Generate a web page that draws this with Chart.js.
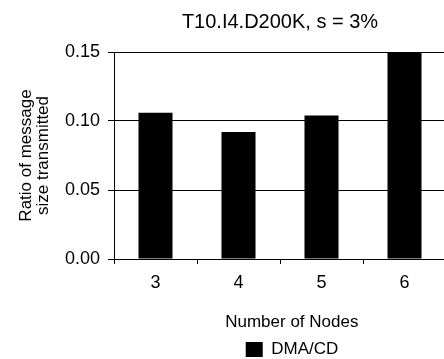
<!DOCTYPE html>
<html>
<head>
<meta charset="utf-8">
<script src="https://cdn.jsdelivr.net/npm/chart.js@4/dist/chart.umd.min.js"></script>
<style>
  html, body { margin: 0; padding: 0; background: #fff; overflow: hidden; }
  #wrap { width: 584px; height: 359px; }
</style>
</head>
<body>
<div id="wrap"><canvas id="myChart" width="584" height="359"></canvas></div>
<script>
// data
const nodeLabels = ['3', '4', '5', '6'];
const dmaValues = [0.106, 0.092, 0.104, 0.150];
const yTicks = [0, 0.05, 0.10, 0.15];

const fontFamily = '"Liberation Sans", Arial, Helvetica, sans-serif';
Chart.defaults.font.family = fontFamily;
Chart.defaults.color = '#000';

const config = {
  type: 'bar',
  data: {
    labels: nodeLabels,
    datasets: [{
      label: 'DMA/CD',
      data: dmaValues,
      backgroundColor: '#000',
      borderWidth: 0,
      categoryPercentage: 1,
      barPercentage: 0.41
    }]
  },
  options: {
    responsive: false,
    devicePixelRatio: 1,
    animation: false,
    layout: { padding: { left: 0, right: 0, top: 0, bottom: -9 } },
    scales: {
      x: {
        offset: true,
        grid: {
          offset: true,
          drawOnChartArea: false,
          drawTicks: true,
          tickLength: 5,
          color: '#000'
        },
        border: { color: '#000', width: 1 },
        ticks: { font: { size: 18 }, padding: 8, color: '#000' },
        title: {
          display: true,
          // leading spaces nudge the centred title a little to the right, as in the picture
          text: '     Number of Nodes',
          font: { size: 17 },
          padding: { top: 0, bottom: 8 },
          color: '#000'
        },
        afterFit: (scale) => { scale.height = 82; }
      },
      y: {
        min: 0,
        max: 0.15,
        afterBuildTicks: (scale) => { scale.ticks = yTicks.map(v => ({ value: v })); },
        grid: {
          color: '#000',
          lineWidth: 1,
          drawTicks: true,
          tickLength: 6
        },
        border: { color: '#000', width: 1 },
        ticks: {
          font: { size: 18 },
          padding: 8,
          color: '#000',
          callback: (value) => value.toFixed(2)
        },
        title: {
          display: true,
          text: ['Ratio of message', 'size transmitted'],
          font: { size: 17, lineHeight: 1.05 },
          padding: { top: 17, bottom: 0 },
          color: '#000'
        },
        afterFit: (scale) => { scale.width = 114; }
      },
      // empty axis on the right, only to hold the plot edge off the window
      yRight: {
        position: 'right',
        display: true,
        grid: { display: false, drawTicks: false },
        border: { display: false },
        ticks: { display: false },
        afterFit: (scale) => { scale.width = 584 - 446; }
      }
    },
    plugins: {
      title: {
        display: true,
        text: 'T10.I4.D200K, s = 3%',
        fullSize: false,
        font: { size: 20, weight: 'normal' },
        color: '#000',
        padding: { top: 10, bottom: 18 }
      },
      legend: {
        display: true,
        position: 'bottom',
        labels: {
          boxWidth: 17,
          boxHeight: 15,
          padding: 0,
          color: '#000',
          font: { size: 17 }
        }
      },
      tooltip: { enabled: false }
    }
  }
};

var myChart = new Chart(document.getElementById('myChart'), config);
</script>
</body>
</html>
